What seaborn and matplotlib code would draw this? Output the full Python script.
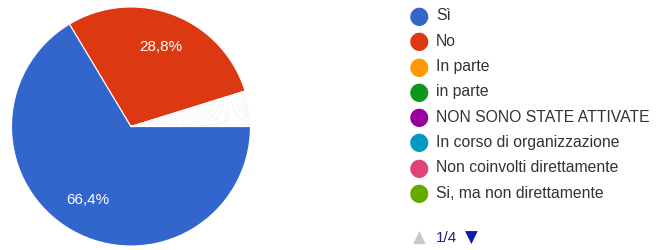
import matplotlib
matplotlib.use("Agg")
import matplotlib.pyplot as plt
import seaborn as sns

# data (percent of answers)
labels = ["Sì", "No", "In parte", "in parte", "NON SONO STATE ATTIVATE",
          "In corso di organizzazione", "Non coinvolti direttamente",
          "Si, ma non direttamente"]
main_values = [66.4, 28.8, 0.16, 0.16, 0.16, 0.16, 0.16, 0.16]
# the other answers (legend pages 2-4), each a single response
other_values = [0.16] * 24

google = ["#3366cc", "#dc3912", "#ff9900", "#109618", "#990099", "#0099c6",
          "#dd4477", "#66aa00", "#b82e2e", "#316395", "#994499", "#22aa99",
          "#aaaa11", "#6633cc", "#e67300", "#8b0707", "#651067", "#329262",
          "#5574a6", "#3b3eac", "#b77322", "#16d620", "#b91383", "#f4359e",
          "#9c5935", "#a9c413", "#2a778d", "#668d1c", "#bea413", "#0c5922",
          "#743411", "#3366cc"]

values = main_values + other_values
palette = sns.color_palette(google[:len(values)])

sns.set_theme(style="white")
plt.rcParams["font.family"] = ["Liberation Sans", "DejaVu Sans"]

fig = plt.figure(figsize=(6.56, 2.51), dpi=100)
W, H = 656, 251

cx, cy, r = 131, 127.5, 119.5
ax = fig.add_axes([(cx - r) / W, (H - cy - r) / H, 2 * r / W, 2 * r / H])


def fmt(p):
    return f"{p:.1f}%".replace(".", ",") if p > 10 else ""


wedges, texts, autotexts = ax.pie(
    values, colors=palette, startangle=0, counterclock=False,
    autopct=fmt, pctdistance=0.68,
    wedgeprops=dict(edgecolor="white", linewidth=0.8),
    textprops=dict(color="white", fontsize=11),
)
autotexts[0].set_position((-0.36, -0.61))
autotexts[1].set_position((0.25, 0.67))
ax.set_xlim(-1, 1)
ax.set_ylim(-1, 1)
ax.set_aspect("equal")
ax.axis("off")

# legend (first page of four)
lx, ly0, dy = 419, 16, 25.3
for i, lab in enumerate(labels):
    y = ly0 + i * dy
    fig.text(lx / W, 1 - y / H, "●", color=google[i], fontsize=17,
             ha="center", va="center", family="DejaVu Sans")
    fig.text((lx + 17) / W, 1 - y / H, lab, color="#333333", fontsize=11.3,
             ha="left", va="center")

py = 238
fig.text(lx / W, 1 - py / H, "▲", color="#c8c8c8", fontsize=12,
         ha="center", va="center", family="DejaVu Sans")
fig.text((lx + 17) / W, 1 - py / H, "1/4", color="#1a237e", fontsize=11,
         ha="left", va="center")
fig.text((lx + 52) / W, 1 - py / H, "▼", color="#0d1bb5", fontsize=12,
         ha="center", va="center", family="DejaVu Sans")

fig.savefig("out.png", dpi=100, facecolor="white")
